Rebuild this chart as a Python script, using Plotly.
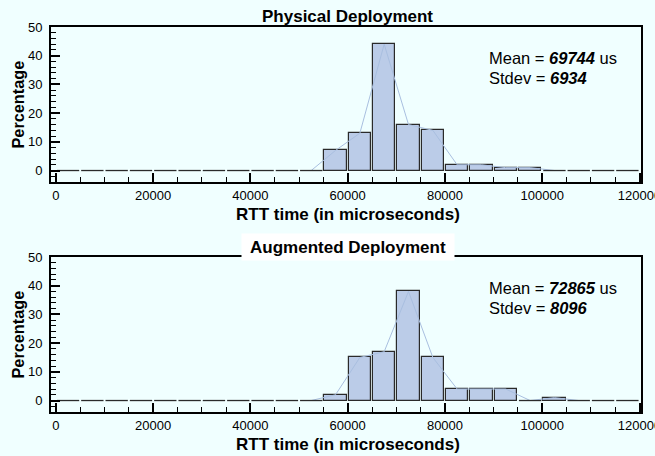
import numpy as np
import plotly.graph_objects as go

# ---------------- data ----------------
bin_width = 5000
bin_starts = list(range(0, 120000, 5000))  # 24 bins, 0 .. 115000
physical_counts = [0]*11 + [7, 13, 44, 16, 14, 2, 2, 1, 1] + [0]*4
augmented_counts = [0]*11 + [2, 15, 17, 38, 15, 4, 4, 4, 0, 1] + [0]*3
panel_titles = ["Physical Deployment", "Augmented Deployment"]
mean_values = ["69744", "72865"]
stdev_values = ["6934", "8096"]
x_tick_vals = [0, 20000, 40000, 60000, 80000, 100000, 120000]
x_tick_text = ["0", "20000", "40000", "60000", "80000", "100000", "120000"]
y_tick_vals = [0, 10, 20, 30, 40, 50]
x_title = "RTT time (in microseconds)"
y_title = "Percentage"

# ---------------- style ----------------
W, H = 655, 456
ML, MR, MT, MB = 51, 14, 27, 44
PW = W - ML - MR
PH = H - MT - MB
BG = "#F0FFFF"
BAR_FILL = "#BBCCE8"
BAR_LINE = "#2a2a2a"
POLY = "#A9BFE0"
GAP = 0.08
FONT = "Liberation Sans, Arial, Helvetica, sans-serif"

def px_x(p):
    return (p - ML) / PW

def px_y(p):
    return (H - MB - p) / PH

top_dom = [px_y(182), 1.0]
bot_dom = [0.0, px_y(257)]

fig = go.Figure()

starts = np.array(bin_starts, dtype=float)
mids = starts + bin_width / 2

def add_panel(counts, xa, ya):
    counts = np.array(counts, dtype=float)
    nz = np.nonzero(counts)[0]
    # frequency polygon (behind the bars)
    i0, i1 = max(nz[0] - 1, 0), min(nz[-1] + 1, len(counts) - 1)
    fig.add_trace(go.Scatter(x=mids[i0:i1 + 1], y=counts[i0:i1 + 1], mode="lines",
                             line=dict(color=POLY, width=1), xaxis=xa, yaxis=ya,
                             showlegend=False, hoverinfo="skip"))
    # zero-height bins drawn as flat outlines
    zx, zy = [], []
    for s, c in zip(starts, counts):
        if c == 0:
            zx += [s + bin_width * GAP / 2, s + bin_width * (1 - GAP / 2), None]
            zy += [0, 0, None]
    fig.add_trace(go.Scatter(x=zx, y=zy, mode="lines", line=dict(color=BAR_LINE, width=1.3),
                             xaxis=xa, yaxis=ya, showlegend=False, hoverinfo="skip"))
    # non-zero bins
    fig.add_trace(go.Bar(x=mids[nz], y=counts[nz], width=bin_width * (1 - GAP),
                         marker=dict(color=BAR_FILL, line=dict(color=BAR_LINE, width=1.2)),
                         xaxis=xa, yaxis=ya, showlegend=False))

add_panel(physical_counts, "x", "y")
add_panel(augmented_counts, "x2", "y2")

xcommon = dict(range=[-1000, 120300], tickvals=x_tick_vals, ticktext=x_tick_text,
               ticks="inside", ticklen=9, ticklabeloverflow="allow", automargin=False,
               tickwidth=2, tickcolor="black", showline=True, linewidth=2, linecolor="black",
               mirror=True, showgrid=False, zeroline=False,
               tickfont=dict(family=FONT, size=13, color="black"),
               minor=dict(dtick=5000, tick0=0, ticks="inside", ticklen=5, tickwidth=1,
                          tickcolor="black", showgrid=False))
ycommon = dict(range=[-4, 50], tickvals=y_tick_vals, ticks="inside", ticklen=9,
               ticklabelstandoff=4, automargin=False,
               tickwidth=1.5, tickcolor="black", showline=True, linewidth=2, linecolor="black",
               mirror=True, showgrid=False, zeroline=False,
               tickfont=dict(family=FONT, size=13, color="black"),
               minor=dict(dtick=2, tick0=0, ticks="inside", ticklen=5, tickwidth=1,
                          tickcolor="black", showgrid=False))

fig.update_layout(
    width=W, height=H,
    margin=dict(l=ML, r=MR, t=MT, b=MB, pad=0, autoexpand=False),
    paper_bgcolor=BG, plot_bgcolor=BG,
    bargap=0,
    xaxis=dict(domain=[0, 1], anchor="y", **xcommon),
    yaxis=dict(domain=top_dom, anchor="x", **ycommon),
    xaxis2=dict(domain=[0, 1], anchor="y2", **xcommon),
    yaxis2=dict(domain=bot_dom, anchor="x2", **ycommon),
    font=dict(family=FONT, color="black"),
)

ann = []
panel_tops = [27, 257]
panel_bots = [182, 412]
for k in range(2):
    top, bot = panel_tops[k], panel_bots[k]
    ann.append(dict(text="<b>" + panel_titles[k] + "</b>", x=px_x(348), y=px_y(top - 10.5),
                    xref="paper", yref="paper", showarrow=False,
                    font=dict(family=FONT, size=17, color="black"),
                    xanchor="center", yanchor="middle",
                    bgcolor=("white" if k == 1 else None),
                    width=(210 if k == 1 else None), height=(24 if k == 1 else None)))
    ann.append(dict(text="Mean = <b><i>" + mean_values[k] + "</i></b> us",
                    x=px_x(487), y=px_y(top + 31), xref="paper", yref="paper",
                    showarrow=False, xanchor="left", yanchor="middle",
                    font=dict(family=FONT, size=16.5, color="black")))
    ann.append(dict(text="Stdev = <b><i>" + stdev_values[k] + "</i></b>",
                    x=px_x(487), y=px_y(top + 51), xref="paper", yref="paper",
                    showarrow=False, xanchor="left", yanchor="middle",
                    font=dict(family=FONT, size=16.5, color="black")))
    ann.append(dict(text="<b>" + y_title + "</b>", x=px_x(17), y=px_y((top + bot) / 2),
                    xref="paper", yref="paper", showarrow=False, textangle=-90,
                    xanchor="center", yanchor="middle",
                    font=dict(family=FONT, size=16.3, color="black")))
    ann.append(dict(text="<b>" + x_title + "</b>", x=px_x(348), y=px_y(bot + 32),
                    xref="paper", yref="paper", showarrow=False,
                    xanchor="center", yanchor="middle",
                    font=dict(family=FONT, size=17, color="black")))
fig.update_layout(annotations=ann)

fig.write_html("out.html")
